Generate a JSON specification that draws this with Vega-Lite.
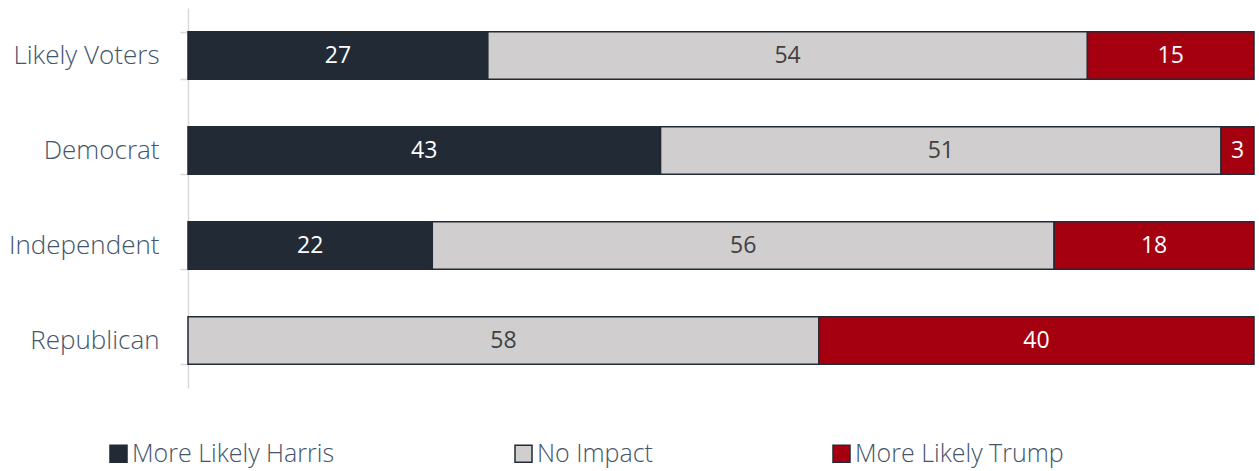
{
  "$schema": "https://vega.github.io/schema/vega-lite/v6.json",
  "width": 1066,
  "height": 380,
  "padding": {"left": 188, "top": 8, "right": 5, "bottom": 83},
  "autosize": {"type": "none"},
  "background": "white",
  "config": {
    "view": {"stroke": null},
    "font": "Open Sans"
  },
  "data": {
    "values": [
      {"group": "Likely Voters", "response": "More Likely Harris", "k": 1, "value": 27},
      {"group": "Likely Voters", "response": "No Impact", "k": 2, "value": 54},
      {"group": "Likely Voters", "response": "More Likely Trump", "k": 3, "value": 15},
      {"group": "Democrat", "response": "More Likely Harris", "k": 1, "value": 43},
      {"group": "Democrat", "response": "No Impact", "k": 2, "value": 51},
      {"group": "Democrat", "response": "More Likely Trump", "k": 3, "value": 3},
      {"group": "Independent", "response": "More Likely Harris", "k": 1, "value": 22},
      {"group": "Independent", "response": "No Impact", "k": 2, "value": 56},
      {"group": "Independent", "response": "More Likely Trump", "k": 3, "value": 18},
      {"group": "Republican", "response": "No Impact", "k": 2, "value": 58},
      {"group": "Republican", "response": "More Likely Trump", "k": 3, "value": 40}
    ]
  },
  "encoding": {
    "y": {
      "field": "group",
      "type": "nominal",
      "sort": ["Likely Voters", "Democrat", "Independent", "Republican"],
      "scale": {"paddingInner": 0.5, "paddingOuter": 0.25},
      "axis": {
        "title": null,
        "domainColor": "#d9d9d9",
        "domainWidth": 1.5,
        "tickColor": "#d9d9d9",
        "tickWidth": 1.5,
        "tickSize": 8,
        "tickBand": "extent",
        "labelFontSize": 26,
        "labelFont": "Open Sans",
        "labelFontWeight": 300,
        "labelColor": "#44546a",
        "labelPadding": 21
      }
    },
    "x": {
      "field": "value",
      "type": "quantitative",
      "stack": "normalize",
      "axis": null
    },
    "order": {"field": "k", "type": "quantitative"}
  },
  "layer": [
    {
      "mark": {"type": "bar", "stroke": "#222a35", "strokeWidth": 1.5},
      "encoding": {
        "color": {
          "field": "response",
          "type": "nominal",
          "sort": ["More Likely Harris", "No Impact", "More Likely Trump"],
          "scale": {
            "domain": ["More Likely Harris", "No Impact", "More Likely Trump"],
            "range": ["#222a35", "#d0cece", "#a50010"]
          },
          "legend": {
            "title": null,
            "orient": "none",
            "direction": "horizontal",
            "legendX": -82,
            "legendY": 433,
            "columnPadding": 176,
            "symbolType": "square",
            "symbolSize": 289,
            "symbolStrokeColor": "#222a35",
            "symbolStrokeWidth": 1.5,
            "labelFontSize": 25,
            "labelFont": "Open Sans",
            "labelFontWeight": 300,
            "labelColor": "#44546a",
            "labelOffset": 1,
            "labelLimit": 400
          }
        }
      }
    },
    {
      "mark": {"type": "text", "fontSize": 23, "font": "Open Sans"},
      "encoding": {
        "x": {
          "field": "value",
          "type": "quantitative",
          "stack": "normalize",
          "bandPosition": 0.5
        },
        "text": {"field": "value", "type": "quantitative"},
        "fill": {
          "condition": {"test": "datum.response === 'No Impact'", "value": "#404040"},
          "value": "white"
        }
      }
    }
  ]
}
